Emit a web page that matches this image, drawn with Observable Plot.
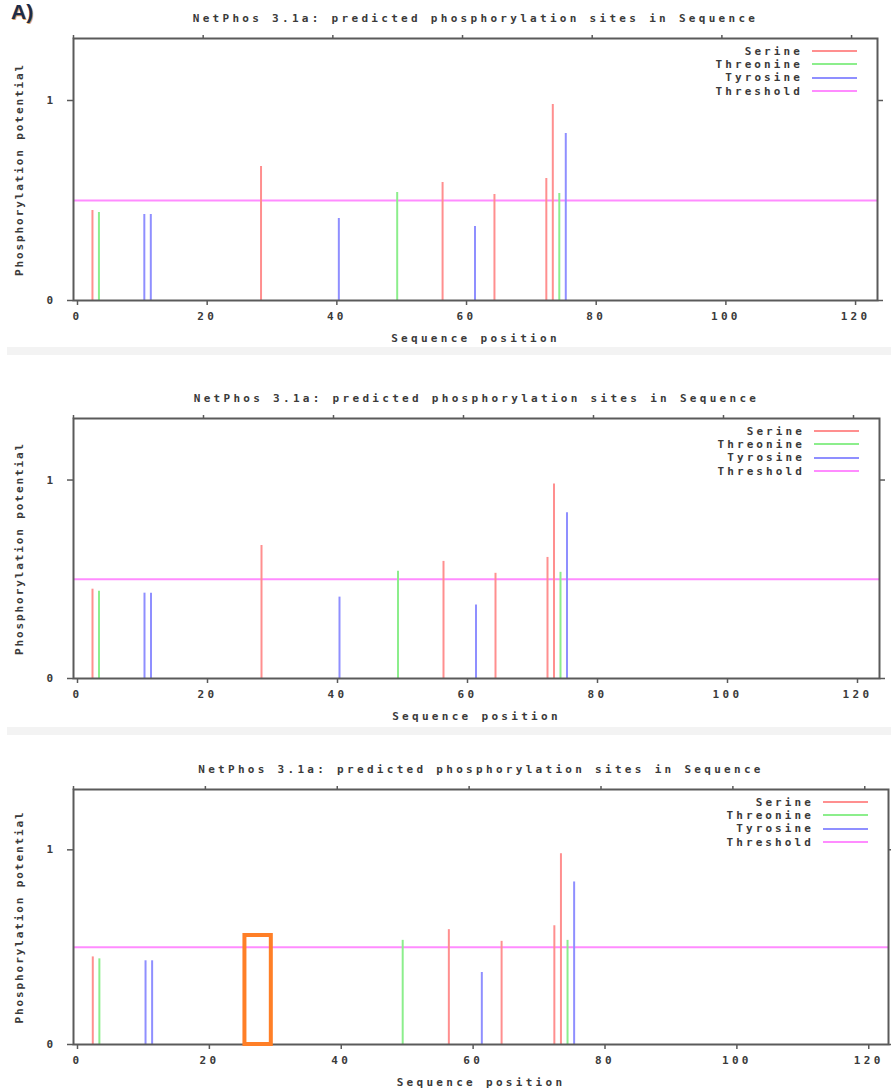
<!DOCTYPE html>
<html><head><meta charset="utf-8">
<script src="https://cdn.jsdelivr.net/npm/d3@7"></script>
<script src="https://cdn.jsdelivr.net/npm/@observablehq/plot@0.6"></script>
<style>
body{margin:0;background:#fff;}
#root{position:relative;width:891px;height:1092px;overflow:hidden;background:#fff;}
.panel{position:absolute;left:0;width:891px;}
.sep{position:absolute;left:7px;width:884px;height:8px;background:#f3f3f3;}
.tag{position:absolute;left:11px;top:0px;font:bold 21px "Liberation Sans",Arial,sans-serif;color:#1c2b4a;text-shadow:1px 1px 0 #e0a060;}
.legend{position:absolute;font:bold 11px "DejaVu Sans Mono",monospace;letter-spacing:3.1px;color:#3a3a3a;}
.legend .row{position:absolute;right:0;height:13px;line-height:13px;white-space:nowrap;display:flex;align-items:center;}
.legend .sw{display:inline-block;width:45px;height:2px;margin-left:9px;}
</style></head>
<body><div id="root"></div>
<script>
// ---- data ----
const chartTitle = "NetPhos 3.1a: predicted phosphorylation sites in Sequence";
const xLabel = "Sequence position";
const yLabel = "Phosphorylation potential";
const residueTypes = ["Serine", "Threonine", "Tyrosine", "Threshold"];
const residueColors = ["#ff8f8f", "#8cee8c", "#8f8fff", "#ff8cff"];
const threshold = 0.5;
const xTickValues = [0, 20, 40, 60, 80, 100, 120];
const yTickValues = [0, 1];

// wild-type sequence (panels 1 and 2)
const serinePos = [3, 29, 57, 65, 73, 74];
const serineScore = [0.45, 0.67, 0.59, 0.53, 0.61, 0.98];
const threoninePos = [4, 50, 75];
const threonineScore = [0.44, 0.54, 0.535];
const tyrosinePos = [11, 12, 41, 62, 76];
const tyrosineScore = [0.43, 0.43, 0.41, 0.37, 0.835];

// mutant sequence (panel 3)
const serinePos3 = [3, 57, 65, 73, 74];
const serineScore3 = [0.45, 0.59, 0.53, 0.61, 0.98];
const threoninePos3 = [4, 50, 75];
const threonineScore3 = [0.44, 0.535, 0.535];
const tyrosinePos3 = [11, 12, 62, 76];
const tyrosineScore3 = [0.43, 0.43, 0.37, 0.835];

// highlighted region in panel 3
const highlightStart = [26];
const highlightEnd = [30];
const highlightTop = [0.56];

function sites(sp, ss, tp, ts, yp, ys) {
  const out = [];
  sp.forEach((p, i) => out.push({pos: p, score: ss[i], type: "Serine"}));
  tp.forEach((p, i) => out.push({pos: p, score: ts[i], type: "Threonine"}));
  yp.forEach((p, i) => out.push({pos: p, score: ys[i], type: "Tyrosine"}));
  return out;
}
const wildSites = sites(serinePos, serineScore, threoninePos, threonineScore, tyrosinePos, tyrosineScore);
const mutSites = sites(serinePos3, serineScore3, threoninePos3, threonineScore3, tyrosinePos3, tyrosineScore3);
const highlights = highlightStart.map((s, i) => ({x1: s, x2: highlightEnd[i], y2: highlightTop[i]}));

// ---- layout ----
const panels = [
  {top: 0, height: 347, mt: 38, mb: 47, mr: 14, xMax: 124, sites: wildSites, box: false, tag: "A)"},
  {top: 357, height: 370, mt: 61, mb: 49, mr: 12, xMax: 124, sites: wildSites, box: false},
  {top: 736, height: 356, mt: 53, mb: 48, mr: 3, xMax: 123.6, sites: mutSites, box: true}
];
const seps = [347, 727];

const root = document.getElementById("root");
seps.forEach(t => { const d = document.createElement("div"); d.className = "sep"; d.style.top = t + "px"; root.appendChild(d); });

panels.forEach(p => {
  const div = document.createElement("div");
  div.className = "panel";
  div.style.top = p.top + "px";
  div.style.height = p.height + "px";
  const marks = [
    Plot.ruleY([threshold], {y: d => d, stroke: residueColors[3], strokeWidth: 2}),
    Plot.ruleX(p.sites, {x: "pos", y1: 0, y2: "score", stroke: "type", strokeWidth: 2, dx: -0.5}),
    Plot.frame({stroke: "#5a5a5a", strokeWidth: 2}),
    Plot.axisX({anchor: "bottom", ticks: xTickValues, tickSize: 5, tickPadding: 7, dx: 4, stroke: "#5a5a5a", strokeWidth: 1.5,
      label: xLabel, labelAnchor: "center", labelOffset: 41, labelArrow: "none"}),
    Plot.axisX({anchor: "top", ticks: xTickValues, tickSize: 4, tickFormat: () => "", label: null, stroke: "#5a5a5a", strokeWidth: 1.5}),
    Plot.axisY({anchor: "left", ticks: yTickValues, tickSize: 6, tickPadding: 11, tickFormat: d => String(d), stroke: "#5a5a5a", strokeWidth: 1.5,
      label: yLabel, labelAnchor: "center", labelOffset: 58, labelArrow: "none"}),
    Plot.axisY({anchor: "right", ticks: yTickValues, tickSize: 5, tickFormat: () => "", label: null, stroke: "#5a5a5a", strokeWidth: 1.5}),
    Plot.text([chartTitle], {frameAnchor: "top", dy: -24, text: d => d, fill: "#3a3a3a"})
  ];
  if (p.box) marks.push(Plot.rect(highlights, {x1: "x1", x2: "x2", y1: 0, y2: "y2", fill: "none", stroke: "#ff7f27", strokeWidth: 4}));
  const svg = Plot.plot({
    width: 891, height: p.height,
    marginLeft: 73, marginRight: p.mr, marginTop: p.mt, marginBottom: p.mb,
    x: {domain: [0, p.xMax]},
    y: {domain: [0, 1.31]},
    color: {domain: residueTypes, range: residueColors},
    style: {fontFamily: "'DejaVu Sans Mono', monospace", fontSize: "11px", fontWeight: "bold", color: "#3a3a3a", background: "transparent", letterSpacing: "3.3px", overflow: "visible"},
    marks
  });
  d3.select(svg).selectAll('g[aria-label="y-axis label"] text').style("letter-spacing", "1.9px");
  div.appendChild(svg);

  // legend
  const lg = document.createElement("div");
  lg.className = "legend";
  lg.style.right = (p.mr + 20) + "px";
  lg.style.top = (p.mt + 6.5) + "px";
  lg.style.width = "200px";
  residueTypes.forEach((t, i) => {
    const row = document.createElement("div");
    row.className = "row";
    row.style.top = (i * 13.4) + "px";
    row.innerHTML = `<span>${t}</span><span class="sw" style="background:${residueColors[i]}"></span>`;
    lg.appendChild(row);
  });
  div.appendChild(lg);

  if (p.tag) { const tg = document.createElement("div"); tg.className = "tag"; tg.textContent = p.tag; div.appendChild(tg); }
  root.appendChild(div);
});
</script></body></html>
